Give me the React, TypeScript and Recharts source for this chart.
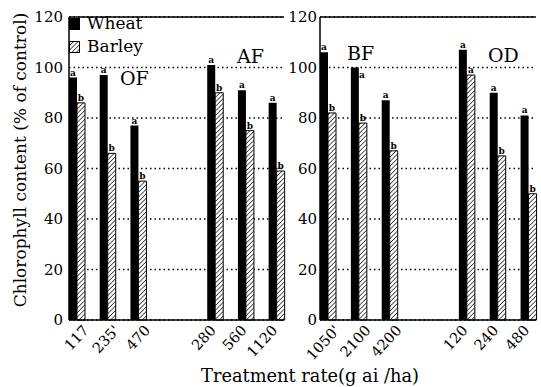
import React from "react";
import {
  BarChart,
  Bar,
  XAxis,
  YAxis,
  CartesianGrid,
  ReferenceLine,
  LabelList,
} from "recharts";

const FONT = '"DejaVu Serif", serif';

// treatments and rates, left panel then right panel
const leftGroups = ["OF", "AF"];
const leftRates = [
  ["117", "235'", "470"],
  ["280", "560", "1120"],
];
const leftWheat = [
  [96, 97, 77],
  [101, 91, 86],
];
const leftBarley = [
  [86, 66, 55],
  [90, 75, 59],
];
const leftWheatSig = [
  ["a", "a", "a"],
  ["a", "a", "a"],
];
const leftBarleySig = [
  ["b", "b", "b"],
  ["b", "b", "b"],
];

const rightGroups = ["BF", "OD"];
const rightRates = [
  ["1050'", "2100", "4200"],
  ["120", "240", "480"],
];
const rightWheat = [
  [106, 100, 87],
  [107, 90, 81],
];
const rightBarley = [
  [82, 78, 67],
  [97, 65, 50],
];
const rightWheatSig = [
  ["a", "a", "a"],
  ["a", "a", "a"],
];
const rightBarleySig = [
  ["b", "b", "b"],
  ["a", "b", "b"],
];

// wheat letters printed beside the bar instead of above it
const sideLetters = ["2100"];

const yTicks = [0, 20, 40, 60, 80, 100, 120];

type Row = {
  name: string;
  group: number;
  wheat: number | null;
  barley: number | null;
  wheatSig: string;
  barleySig: string;
  spacer: boolean;
};

// each rate gets a half-width slot, with empty slots in between
function buildRows(
  rates: string[][],
  wheat: number[][],
  barley: number[][],
  wSig: string[][],
  bSig: string[][]
): Row[] {
  const rows: Row[] = [];
  let k = 0;
  const spacer = (g: number) =>
    rows.push({
      name: `_s${k++}`,
      group: g,
      wheat: null,
      barley: null,
      wheatSig: "",
      barleySig: "",
      spacer: true,
    });
  rates.forEach((list, g) => {
    if (g > 0) {
      spacer(g);
      spacer(g);
      spacer(g);
      spacer(g);
    }
    list.forEach((rate, i) => {
      if (i > 0) spacer(g);
      rows.push({
        name: rate,
        group: g,
        wheat: wheat[g][i],
        barley: barley[g][i],
        wheatSig: wSig[g][i],
        barleySig: bSig[g][i],
        spacer: false,
      });
    });
  });
  return rows;
}

const leftRows = buildRows(leftRates, leftWheat, leftBarley, leftWheatSig, leftBarleySig);
const rightRows = buildRows(rightRates, rightWheat, rightBarley, rightWheatSig, rightBarleySig);

function makeTick(rows: Row[]) {
  return (props: any) => {
    const { x, y, payload } = props;
    const row = rows.find((r) => r.name === payload.value);
    if (!row || row.spacer) return <g />;
    const dx = row.group === 0 ? 13 : 2;
    const tx = x + dx;
    const ty = y + 11;
    return (
      <text
        x={tx}
        y={ty}
        transform={`rotate(-47, ${tx}, ${ty})`}
        textAnchor="end"
        fontSize={14.5}
        style={{ fontFamily: FONT }}
        fill="#000"
      >
        {payload.value}
      </text>
    );
  };
}

// value "a" goes above the bar, ">a" goes beside it
const sigLabel = (props: any) => {
  const { x, y, width, value } = props;
  if (!value) return null;
  const side = String(value).startsWith(">");
  const letter = side ? String(value).slice(1) : value;
  return (
    <text
      x={side ? x + width + 3 : x + width / 2}
      y={side ? y + 10 : y - 2}
      textAnchor="middle"
      fontSize={9}
      fontWeight="bold"
      style={{ fontFamily: FONT }}
      fill="#000"
    >
      {letter}
    </text>
  );
};

const wheatSigKey = (r: Row) =>
  r.wheatSig ? (sideLetters.includes(r.name) ? ">" + r.wheatSig : r.wheatSig) : "";

const LegendBox = () => (
  <div style={{ fontFamily: FONT, fontSize: 17, lineHeight: "23px" }}>
    <div style={{ display: "flex", alignItems: "center" }}>
      <span
        style={{ width: 11, height: 12, background: "#000", display: "inline-block", marginRight: 7 }}
      />
      Wheat
    </div>
    <div style={{ display: "flex", alignItems: "center" }}>
      <svg width={11} height={12} style={{ marginRight: 7 }}>
        <rect x={0.5} y={0.5} width={10} height={11} fill="url(#hatch)" stroke="#000" />
      </svg>
      Barley
    </div>
  </div>
);

interface PanelProps {
  rows: Row[];
  width: number;
  yWidth: number;
  tickGap: number;
  rightMargin: number;
}

function Panel({ rows, width, yWidth, tickGap, rightMargin }: PanelProps) {
  return (
    <BarChart
      width={width}
      height={387}
      data={rows}
      margin={{ top: 17, right: rightMargin, bottom: 0, left: 0 }}
      barCategoryGap={0}
      barGap={0}
    >
      <CartesianGrid
        horizontal
        vertical={false}
        stroke="#000"
        strokeDasharray="1.5 3"
        strokeWidth={1.3}
      />
      <XAxis
        dataKey="name"
        interval={0}
        height={67}
        tickLine={false}
        tickSize={0}
        tickMargin={0}
        axisLine={{ stroke: "#000", strokeWidth: 1.3 }}
        tick={makeTick(rows)}
      />
      <YAxis
        domain={[0, 120]}
        ticks={yTicks}
        width={yWidth}
        tickLine={false}
        tickSize={0}
        tickMargin={tickGap}
        axisLine={{ stroke: "#000", strokeWidth: 1.5 }}
        tick={{ fontSize: 15, style: { fontFamily: FONT }, fill: "#000" }}
      />
      <YAxis
        yAxisId="border"
        orientation="right"
        domain={[0, 120]}
        width={0}
        tick={false}
        tickLine={false}
        axisLine={{ stroke: "#000", strokeWidth: 1.3 }}
      />
      <ReferenceLine y={120} stroke="#000" strokeWidth={1.5} />
      <Bar dataKey="wheat" name="Wheat" fill="#000" isAnimationActive={false}>
        <LabelList dataKey={wheatSigKey} content={sigLabel} />
      </Bar>
      <Bar
        dataKey="barley"
        name="Barley"
        fill="url(#hatch)"
        stroke="#000"
        strokeWidth={1}
        isAnimationActive={false}
      >
        <LabelList dataKey="barleySig" content={sigLabel} />
      </Bar>
    </BarChart>
  );
}

export default function App() {
  const groupText = { style: { fontFamily: FONT }, fontSize: 19, fill: "#000" };
  return (
    <div
      style={{
        position: "fixed",
        left: 0,
        top: 0,
        width: 541,
        height: 387,
        background: "#fff",
        overflow: "hidden",
        fontFamily: FONT,
      }}
    >
      <svg width={0} height={0} style={{ position: "absolute" }}>
        <defs>
          <pattern
            id="hatch"
            patternUnits="userSpaceOnUse"
            width={3.2}
            height={3.2}
            patternTransform="rotate(45)"
          >
            <rect width={3.2} height={3.2} fill="#fff" />
            <line x1={0} y1={0} x2={0} y2={3.2} stroke="#000" strokeWidth={1.3} />
          </pattern>
        </defs>
      </svg>
      <div style={{ position: "absolute", left: 0, top: 0 }}>
        <Panel rows={leftRows} width={290} yWidth={69} tickGap={6} rightMargin={6} />
      </div>
      <div style={{ position: "absolute", left: 284, top: 0 }}>
        <Panel rows={rightRows} width={257} yWidth={36} tickGap={3} rightMargin={5} />
      </div>
      <div style={{ position: "absolute", left: 69, top: 12 }}>
        <LegendBox />
      </div>
      <svg
        width={541}
        height={387}
        style={{ position: "absolute", left: 0, top: 0, pointerEvents: "none" }}
      >
        <text
          transform="translate(26, 160) rotate(-90)"
          textAnchor="middle"
          style={{ fontFamily: FONT }}
          fontSize={17}
          fill="#000"
        >
          Chlorophyll content (% of control)
        </text>
        <text x={310} y={382} textAnchor="middle" style={{ fontFamily: FONT }} fontSize={17.8} fill="#000">
          Treatment rate(g ai /ha)
        </text>
        <text x={120} y={85} {...groupText}>{leftGroups[0]}</text>
        <text x={237} y={63} {...groupText}>{leftGroups[1]}</text>
        <text x={347} y={60} {...groupText}>{rightGroups[0]}</text>
        <text x={488} y={62} {...groupText}>{rightGroups[1]}</text>
      </svg>
    </div>
  );
}
